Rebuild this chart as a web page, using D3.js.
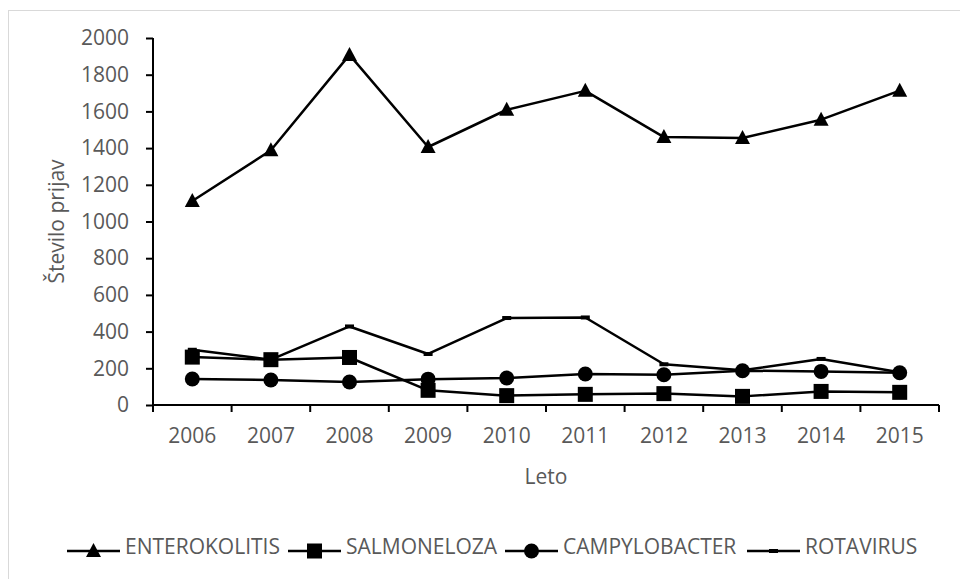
<!DOCTYPE html>
<html>
<head>
<meta charset="utf-8">
<script src="https://cdn.jsdelivr.net/npm/d3@7"></script>
<style>
  body { margin: 0; background: #fff; }
  text { font-family: "Open Sans", sans-serif; fill: #595959; }
</style>
</head>
<body>
<svg id="chart"></svg>
<script>
const years = ["2006", "2007", "2008", "2009", "2010", "2011", "2012", "2013", "2014", "2015"];
const enterokolitis = [1112, 1388, 1908, 1406, 1609, 1712, 1460, 1455, 1555, 1713];
const salmoneloza = [261, 247, 259, 80, 51, 58, 62, 47, 74, 69];
const campylobacter = [142, 136, 125, 141, 147, 169, 165, 187, 183, 176];
const rotavirus = [301, 247, 428, 278, 474, 477, 222, 189, 251, 178];
const yTicks = [0, 200, 400, 600, 800, 1000, 1200, 1400, 1600, 1800, 2000];

const series = [
  { name: "ENTEROKOLITIS", values: enterokolitis, marker: "triangle" },
  { name: "SALMONELOZA", values: salmoneloza, marker: "square" },
  { name: "CAMPYLOBACTER", values: campylobacter, marker: "circle" },
  { name: "ROTAVIRUS", values: rotavirus, marker: "dash" },
];

const width = 960;
const height = 579;
const margin = { top: 38, right: 21, bottom: 174, left: 153 };
const fs = 21;

const svg = d3.select("#chart").attr("width", width).attr("height", height);

// chart area border
svg.append("rect")
  .attr("x", 8.5).attr("y", 10.5)
  .attr("width", 980).attr("height", 620)
  .attr("fill", "none").attr("stroke", "#d9d9d9");

const x = d3.scaleBand()
  .domain(years)
  .range([margin.left, width - margin.right])
  .padding(0);
const y = d3.scaleLinear()
  .domain([0, 2000])
  .range([height - margin.bottom, margin.top]);

const cx = (yr) => x(yr) + x.bandwidth() / 2;
const y0 = y(0);

// y axis
const yAxis = svg.append("g")
  .attr("transform", `translate(${margin.left},0)`)
  .call(d3.axisLeft(y).tickValues(yTicks).tickSize(7).tickPadding(17).tickFormat(d3.format("d")));
yAxis.select(".domain").remove();
yAxis.selectAll(".tick line").attr("stroke", "#000").attr("stroke-width", 2);
yAxis.selectAll(".tick text").attr("font-size", fs).attr("fill", "#595959");
svg.append("line")
  .attr("x1", margin.left).attr("x2", margin.left)
  .attr("y1", y(2000)).attr("y2", y0 + 7)
  .attr("stroke", "#000").attr("stroke-width", 2);

// x axis
const xAxis = svg.append("g")
  .attr("transform", `translate(0,${y0})`)
  .call(d3.axisBottom(x).tickSize(0).tickPadding(23));
xAxis.select(".domain").remove();
xAxis.selectAll(".tick text").attr("font-size", fs).attr("fill", "#595959");
svg.append("line")
  .attr("x1", margin.left).attr("x2", width - margin.right)
  .attr("y1", y0).attr("y2", y0)
  .attr("stroke", "#000").attr("stroke-width", 2);
svg.append("g")
  .selectAll("line")
  .data(years.concat(["end"]))
  .enter()
  .append("line")
  .attr("x1", (d) => (d === "end" ? width - margin.right : x(d)))
  .attr("x2", (d) => (d === "end" ? width - margin.right : x(d)))
  .attr("y1", y0).attr("y2", y0 + 7)
  .attr("stroke", "#000").attr("stroke-width", 2);

// axis titles
svg.append("text")
  .attr("x", (margin.left + width - margin.right) / 2)
  .attr("y", 484)
  .attr("text-anchor", "middle")
  .attr("font-size", fs)
  .text("Leto");
svg.append("text")
  .attr("transform", `translate(64,${(y(0) + y(2000)) / 2}) rotate(-90)`)
  .attr("text-anchor", "middle")
  .attr("font-size", fs)
  .text("Število prijav");

function drawMarker(g, type, px, py) {
  if (type === "triangle") {
    g.append("path")
      .attr("d", `M${px},${py - 8}L${px + 7.5},${py + 6}L${px - 7.5},${py + 6}Z`)
      .attr("fill", "#000");
  } else if (type === "square") {
    g.append("rect")
      .attr("x", px - 7.5).attr("y", py - 7.5)
      .attr("width", 15).attr("height", 15)
      .attr("fill", "#000");
  } else if (type === "circle") {
    g.append("circle").attr("cx", px).attr("cy", py).attr("r", 7.5).attr("fill", "#000");
  } else {
    g.append("rect")
      .attr("x", px - 4.5).attr("y", py - 2)
      .attr("width", 9).attr("height", 4)
      .attr("fill", "#000");
  }
}

const line = d3.line().x((d) => cx(d.year)).y((d) => y(d.value));

series.forEach((s) => {
  const pts = years.map((yr, i) => ({ year: yr, value: s.values[i] }));
  const g = svg.append("g");
  g.append("path")
    .datum(pts)
    .attr("d", line)
    .attr("fill", "none")
    .attr("stroke", "#000")
    .attr("stroke-width", 2.5)
    .attr("stroke-linejoin", "round");
  pts.forEach((p) => drawMarker(g, s.marker, cx(p.year), y(p.value)));
});

// legend
const legendX = [67, 288, 505, 747];
const legendY = 551;
series.forEach((s, i) => {
  const g = svg.append("g");
  const lx = legendX[i];
  g.append("line")
    .attr("x1", lx).attr("x2", lx + 53)
    .attr("y1", legendY).attr("y2", legendY)
    .attr("stroke", "#000").attr("stroke-width", 2.5);
  drawMarker(g, s.marker, lx + 26.5, legendY);
  g.append("text")
    .attr("x", lx + 58)
    .attr("y", legendY + 3)
    .attr("font-size", fs)
    .text(s.name);
});
</script>
</body>
</html>
